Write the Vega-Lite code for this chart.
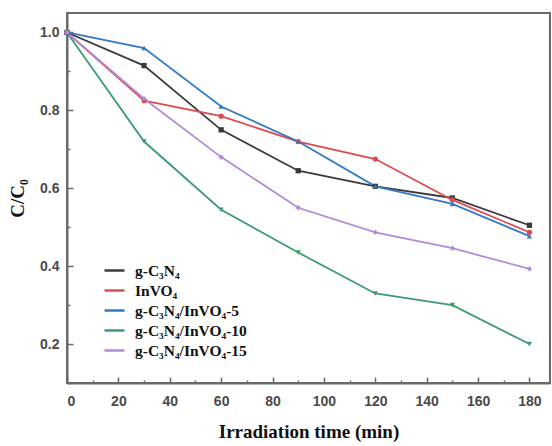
{
  "$schema": "https://vega.github.io/schema/vega-lite/v6.json",
  "width": 483,
  "height": 370,
  "autosize": {"type": "none"},
  "padding": {"left": 67, "top": 13, "right": 2, "bottom": 63},
  "background": "white",
  "config": {
    "view": {"stroke": "#6a6a6a", "strokeWidth": 2},
    "axis": {
      "grid": false,
      "domainColor": "#6a6a6a",
      "domainWidth": 2,
      "tickColor": "#6a6a6a",
      "tickWidth": 1.5,
      "labelFont": "Liberation Sans",
      "labelFontWeight": "bold",
      "labelFontSize": 14,
      "labelColor": "#4a4a4a",
      "titleFont": "Liberation Serif",
      "titleFontWeight": "bold",
      "titleFontSize": 19,
      "titleColor": "#111111"
    },
    "point": {"filled": true, "size": 28, "opacity": 1}
  },
  "data": {
    "values": [
      {"s": "g-C₃N₄", "t": 0, "v": 1.0},
      {"s": "g-C₃N₄", "t": 30, "v": 0.915},
      {"s": "g-C₃N₄", "t": 60, "v": 0.75},
      {"s": "g-C₃N₄", "t": 90, "v": 0.645},
      {"s": "g-C₃N₄", "t": 120, "v": 0.605},
      {"s": "g-C₃N₄", "t": 150, "v": 0.575},
      {"s": "g-C₃N₄", "t": 180, "v": 0.505},
      {"s": "InVO₄", "t": 0, "v": 1.0},
      {"s": "InVO₄", "t": 30, "v": 0.825},
      {"s": "InVO₄", "t": 60, "v": 0.785},
      {"s": "InVO₄", "t": 90, "v": 0.72},
      {"s": "InVO₄", "t": 120, "v": 0.675},
      {"s": "InVO₄", "t": 150, "v": 0.57},
      {"s": "InVO₄", "t": 180, "v": 0.487},
      {"s": "g-C₃N₄/InVO₄-5", "t": 0, "v": 1.0},
      {"s": "g-C₃N₄/InVO₄-5", "t": 30, "v": 0.96},
      {"s": "g-C₃N₄/InVO₄-5", "t": 60, "v": 0.81},
      {"s": "g-C₃N₄/InVO₄-5", "t": 90, "v": 0.72},
      {"s": "g-C₃N₄/InVO₄-5", "t": 120, "v": 0.605},
      {"s": "g-C₃N₄/InVO₄-5", "t": 150, "v": 0.56},
      {"s": "g-C₃N₄/InVO₄-5", "t": 180, "v": 0.477},
      {"s": "g-C₃N₄/InVO₄-10", "t": 0, "v": 1.0},
      {"s": "g-C₃N₄/InVO₄-10", "t": 30, "v": 0.72},
      {"s": "g-C₃N₄/InVO₄-10", "t": 60, "v": 0.545},
      {"s": "g-C₃N₄/InVO₄-10", "t": 90, "v": 0.435},
      {"s": "g-C₃N₄/InVO₄-10", "t": 120, "v": 0.33},
      {"s": "g-C₃N₄/InVO₄-10", "t": 150, "v": 0.3},
      {"s": "g-C₃N₄/InVO₄-10", "t": 180, "v": 0.2},
      {"s": "g-C₃N₄/InVO₄-15", "t": 0, "v": 1.0},
      {"s": "g-C₃N₄/InVO₄-15", "t": 30, "v": 0.83},
      {"s": "g-C₃N₄/InVO₄-15", "t": 60, "v": 0.68},
      {"s": "g-C₃N₄/InVO₄-15", "t": 90, "v": 0.55},
      {"s": "g-C₃N₄/InVO₄-15", "t": 120, "v": 0.487},
      {"s": "g-C₃N₄/InVO₄-15", "t": 150, "v": 0.446},
      {"s": "g-C₃N₄/InVO₄-15", "t": 180, "v": 0.393}
    ]
  },
  "encoding": {
    "x": {"field": "t", "type": "quantitative", "scale": {"domain": [0, 188], "nice": false}},
    "y": {"field": "v", "type": "quantitative", "scale": {"domain": [0.1, 1.05], "nice": false, "zero": false}},
    "color": {
      "field": "s", "type": "nominal",
      "scale": {
        "domain": ["g-C₃N₄", "InVO₄", "g-C₃N₄/InVO₄-5", "g-C₃N₄/InVO₄-10", "g-C₃N₄/InVO₄-15"],
        "range": ["#3a3a3a", "#de4a50", "#3379c4", "#3f9a70", "#b28bd8"]
      },
      "legend": null
    }
  },
  "layer": [
    {
      "mark": {"type": "line", "strokeWidth": 1.8},
      "encoding": {
        "x": {
          "field": "t", "type": "quantitative",
          "axis": {"values": [0, 20, 40, 60, 80, 100, 120, 140, 160, 180], "tickSize": -6, "labelPadding": 17, "title": "Irradiation time (min)", "titlePadding": 14}
        },
        "y": {
          "field": "v", "type": "quantitative",
          "axis": {"values": [0.2, 0.4, 0.6, 0.8, 1.0], "format": ".1f", "tickSize": -6, "labelPadding": 14, "title": "C/C₀", "titlePadding": 12}
        },
        "color": {
          "field": "s", "type": "nominal",
          "legend": {
            "orient": "none",
            "legendX": 36,
            "legendY": 246,
            "title": null,
            "symbolType": "M-1,0L1,0",
            "symbolSize": 400,
            "symbolStrokeWidth": 2.5,
            "labelFont": "Liberation Serif",
            "labelFontWeight": "bold",
            "labelFontSize": 15.5,
            "labelColor": "#111111",
            "rowPadding": 0,
            "labelOffset": 9
          }
        }
      }
    },
    {
      "transform": [{"filter": "datum.s == 'g-C₃N₄'"}],
      "mark": {"type": "point", "shape": "square"},
      "encoding": {
        "x": {"field": "t", "type": "quantitative", "axis": {"values": [10, 30, 50, 70, 90, 110, 130, 150, 170], "orient": "bottom", "tickSize": -3, "labels": false, "title": null, "domain": false}},
        "y": {"field": "v", "type": "quantitative", "axis": {"orient": "left", "values": [0.1, 0.3, 0.5, 0.7, 0.9], "tickSize": -3, "labels": false, "title": null, "domain": false}}
      }
    },
    {
      "transform": [{"filter": "datum.s == 'InVO₄'"}],
      "mark": {"type": "point", "shape": "circle"},
      "encoding": {"x": {"field": "t", "type": "quantitative", "axis": null}, "y": {"field": "v", "type": "quantitative", "axis": null}}
    },
    {
      "transform": [{"filter": "datum.s == 'g-C₃N₄/InVO₄-5'"}],
      "mark": {"type": "point", "shape": "triangle-up"},
      "encoding": {"x": {"field": "t", "type": "quantitative", "axis": null}, "y": {"field": "v", "type": "quantitative", "axis": null}}
    },
    {
      "transform": [{"filter": "datum.s == 'g-C₃N₄/InVO₄-10'"}],
      "mark": {"type": "point", "shape": "triangle-down"},
      "encoding": {"x": {"field": "t", "type": "quantitative", "axis": null}, "y": {"field": "v", "type": "quantitative", "axis": null}}
    },
    {
      "transform": [{"filter": "datum.s == 'g-C₃N₄/InVO₄-15'"}],
      "mark": {"type": "point", "shape": "diamond"},
      "encoding": {"x": {"field": "t", "type": "quantitative", "axis": null}, "y": {"field": "v", "type": "quantitative", "axis": null}}
    }
  ],
  "resolve": {"axis": {"x": "independent", "y": "independent"}}
}
